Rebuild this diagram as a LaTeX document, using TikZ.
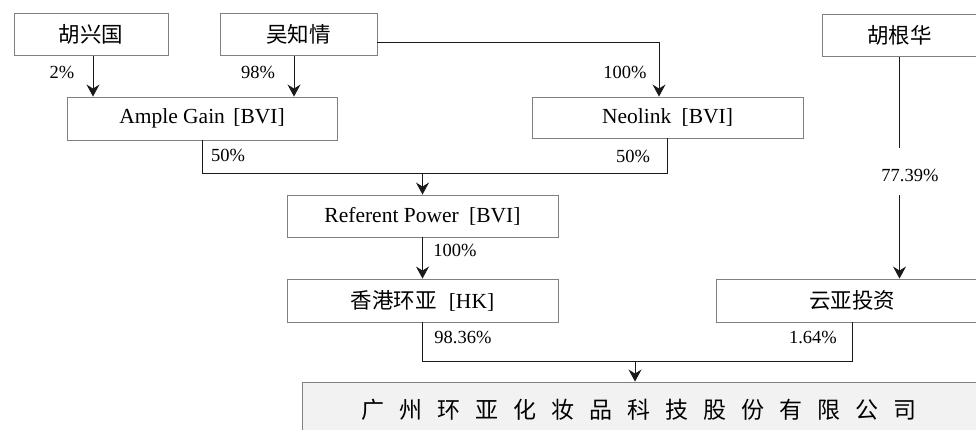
\documentclass[tikz,border=0pt]{standalone}
\usepackage{fontspec}
\setmainfont{Liberation Serif}
\newfontfamily\cjk{Noto Sans CJK SC}
\usetikzlibrary{arrows.meta}
\definecolor{boxline}{HTML}{808080}
\definecolor{cofill}{HTML}{F2F2F2}
\definecolor{conn}{HTML}{1A1A1A}
\tikzset{
  box/.style={draw=boxline, line width=0.9pt, inner sep=0pt, font=\fontsize{21.5}{25}\selectfont, text=black},
  pct/.style={inner sep=0pt, font=\fontsize{18.5}{22}\selectfont, text=black},
  link/.style={draw=conn, line width=0.95pt},
  arr/.style={link, -{Stealth[length=12pt,width=13pt,inset=4pt]}},
}
\begin{document}
\begin{tikzpicture}[x=1pt,y=-1pt]
\clip (0,0) rectangle (976,430);
\fill[white] (0,0) rectangle (976,430);

% boxes
\node[box, minimum width=154pt, minimum height=42pt] (hxg) at (91,34.5) {\cjk 胡兴国};
\node[box, minimum width=157pt, minimum height=42pt] (wzq) at (298.5,34.5) {\cjk 吴知情};
\node[box, minimum width=154pt, minimum height=42pt] (hgh) at (899.5,35.5) {\cjk 胡根华};
\node[box, minimum width=270pt, minimum height=43pt] (ample) at (202,118.5) {Ample Gain\hspace{3pt} [BVI]};
\node[box, minimum width=271pt, minimum height=41pt] (neo) at (667.5,117.5) {Neolink\hspace{5pt} [BVI]};
\node[box, minimum width=271pt, minimum height=42pt] (ref) at (422.5,216) {Referent Power\hspace{5pt} [BVI]};
\node[box, minimum width=271pt, minimum height=43pt] (hk) at (422.5,300.5) {{\cjk 香港环亚}\hspace{12pt}[HK]};
\node[box, minimum width=272pt, minimum height=43pt] (yy) at (852,300.5) {\cjk 云亚投资};
\node[box, fill=cofill, minimum width=674pt, minimum height=56pt, font=\fontsize{23}{26}\selectfont] (co) at (639,410)
  {\cjk 广\hspace{15pt}州\hspace{15pt}环\hspace{15pt}亚\hspace{15pt}化\hspace{15pt}妆\hspace{15pt}品\hspace{15pt}科\hspace{15pt}技\hspace{15pt}股\hspace{15pt}份\hspace{15pt}有\hspace{15pt}限\hspace{15pt}公\hspace{15pt}司};

% junctions
\coordinate (j1) at (422.5,173);
\coordinate (j2) at (635,361);
\coordinate (g1) at (899.5,148);
\coordinate (g2) at (899.5,195);

% connectors
\draw[arr] ([xshift=2pt]hxg.south) -- ([xshift=2pt]hxg.south |- ample.north);
\draw[arr] ([xshift=-4.5pt]wzq.south) -- ([xshift=-4.5pt]wzq.south |- ample.north);
\draw[arr] ([yshift=-7.5pt]wzq.east) -| ([xshift=-8.5pt]neo.north);
\draw[link] (ample.south) |- (j1);
\draw[link] (neo.south) |- (j1);
\draw[arr] (j1) -- (ref.north);
\draw[arr] (ref.south) -- (hk.north);
\draw[link] (hgh.south) -- (g1);
\draw[arr] (g2) -- (hgh.south |- yy.north);
\draw[link] (hk.south) |- (j2);
\draw[link] (yy.south) |- (j2);
\draw[arr] (j2) -- (j2 |- co.north);

% labels
\node[pct] (l1) at (62,72) {2\%};
\node[pct] (l2) at (258,72) {98\%};
\node[pct] (l3) at (625,72) {100\%};
\node[pct] (l4) at (228,155) {50\%};
\node[pct] (l5) at (633,156) {50\%};
\node[pct] (l6) at (455,250) {100\%};
\node[pct] (l7) at (910,175) {77.39\%};
\node[pct] (l8) at (463,337) {98.36\%};
\node[pct] (l9) at (813,337) {1.64\%};
\end{tikzpicture}
\end{document}
